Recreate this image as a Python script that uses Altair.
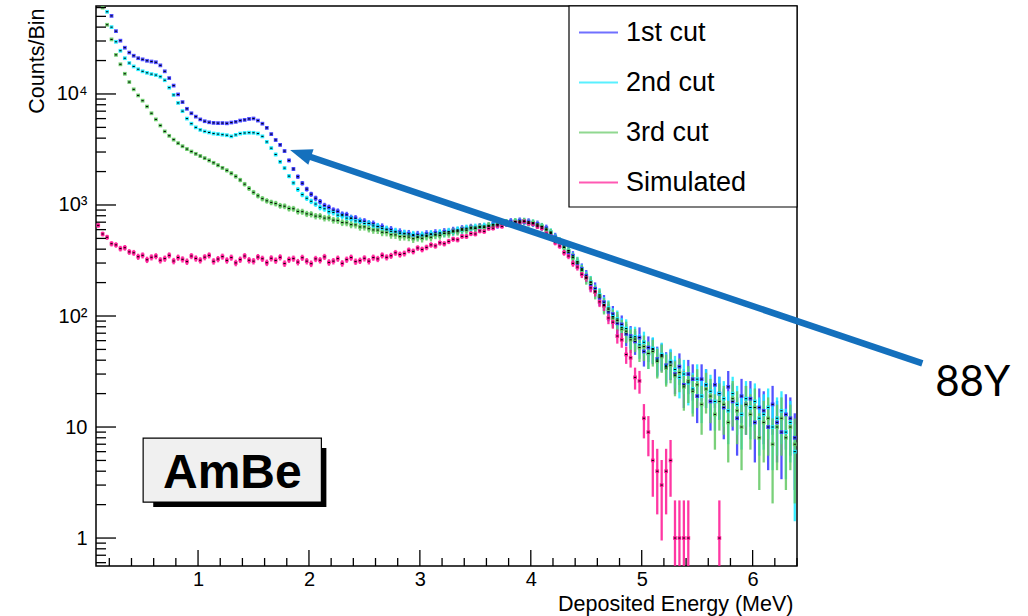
import altair as alt
import pandas as pd

# ---------------- data ----------------
BIN_START = 0.10   # MeV, centre of first bin
BIN_STEP = 0.04    # MeV

series_names = ["1st cut", "2nd cut", "3rd cut", "Simulated"]
series_colors = ["#3535ff", "#14eaff", "#62c862", "#ff1493"]
# weight per entry (error bar = sqrt(weight * value))
series_weights = [3.5, 3.5, 3.5, 1.4]

cut1 = [
    160000, 105000, 72000, 50500, 36800, 30200, 26100, 23600, 22100, 21000,
    20500, 19900, 19600, 19300, 18100, 16000, 13900, 11900, 9900, 8450,
    7350, 6700, 6250, 5900, 5680, 5560, 5490, 5460, 5470, 5440,
    5530, 5610, 5760, 5840, 5960, 6010, 5760, 5400, 4950, 4350,
    3850, 3480, 3060, 2520, 2110, 1800, 1570, 1390, 1250, 1150,
    1072, 988, 951, 897, 876, 822, 815, 766, 760, 720,
    712, 683, 676, 638, 636, 598, 600, 570, 571, 550,
    552, 531, 541, 528, 549, 543, 561, 549, 574, 570,
    591, 588, 612, 608, 630, 619, 641, 635, 648, 672,
    660, 691, 684, 711, 698, 722, 705, 709, 681, 676,
    634, 619, 553, 519, 455, 428, 374, 349, 296, 267,
    231, 192, 176, 146, 133, 109, 104, 86, 84, 69,
    66, 59, 64, 48, 52, 50, 41, 44, 36, 38,
    30, 35, 24, 30, 27, 19, 27, 24, 17, 24,
    20, 15, 23, 17, 12, 19, 16, 18, 11, 15,
    14, 10, 16, 11, 9, 13, 12, 8,
]

cut2 = [
    120000, 80000, 55000, 40000, 29500, 24500, 21000, 19000, 17700, 16700,
    16000, 15500, 15100, 14800, 14300, 13300, 11400, 9800, 8300, 7000,
    6000, 5400, 5000, 4750, 4600, 4500, 4400, 4350, 4300, 4250,
    4150, 4280, 4400, 4450, 4480, 4470, 4400, 4150, 3700, 3250,
    2850, 2450, 2150, 1820, 1580, 1380, 1240, 1150, 1080, 1020,
    952, 924, 870, 857, 810, 801, 762, 755, 719, 713,
    681, 682, 648, 642, 613, 607, 579, 579, 555, 556,
    537, 541, 522, 536, 531, 550, 543, 562, 555, 578,
    572, 598, 593, 619, 611, 633, 626, 647, 641, 664,
    671, 672, 695, 690, 710, 703, 716, 690, 692, 660,
    643, 600, 571, 509, 472, 418, 389, 339, 309, 261,
    224, 203, 168, 155, 127, 118, 99, 94, 79, 77,
    64, 65, 55, 58, 46, 51, 40, 45, 35, 39,
    33, 28, 30, 25, 22, 27, 19, 24, 21, 17,
    20, 18, 14, 20, 16, 13, 18, 15, 17, 12,
    13, 15, 10, 12, 14, 9, 11, 6,
]

cut3 = [
    90000, 60000, 42000, 31000, 22500, 18500, 15200, 12800, 11000, 9700,
    8700, 7700, 6700, 5900, 5200, 4600, 4200, 3880, 3600, 3380,
    3190, 3030, 2890, 2760, 2640, 2520, 2400, 2280, 2160, 2050,
    1930, 1810, 1680, 1540, 1410, 1300, 1210, 1140, 1090, 1055,
    1030, 985, 975, 930, 925, 875, 870, 832, 826, 794,
    793, 762, 764, 730, 726, 695, 692, 665, 662, 634,
    635, 612, 596, 594, 568, 566, 540, 538, 519, 521,
    514, 497, 510, 501, 521, 512, 535, 530, 555, 551,
    578, 575, 600, 592, 622, 615, 636, 628, 655, 648,
    672, 668, 698, 688, 712, 705, 716, 690, 691, 658,
    640, 596, 566, 503, 468, 414, 385, 335, 305, 258,
    219, 200, 165, 151, 124, 115, 96, 91, 76, 73,
    61, 62, 52, 53, 46, 48, 39, 43, 34, 36,
    29, 31, 23, 26, 21, 24, 16, 22, 19, 13,
    17, 16, 11, 18, 14, 10, 16, 13, 15, 8,
    11, 12, 7, 10, 12, 8, 10, 7,
]

simulated = [
    655, 548, 512, 448, 437, 405, 412, 378, 371, 342,
    352, 321, 338, 346, 318, 329, 352, 313, 336, 324,
    309, 347, 330, 318, 339, 352, 311, 326, 343, 317,
    336, 301, 322, 347, 318, 312, 340, 328, 302, 331,
    316, 338, 297, 322, 329, 306, 335, 312, 296, 327,
    318, 341, 304, 312, 329, 298, 322, 336, 309, 315,
    331, 312, 336, 327, 352, 338, 349, 371, 358, 366,
    391, 382, 410, 398, 415, 437, 428, 456, 448, 470,
    492, 486, 522, 521, 552, 548, 584, 578, 615, 618,
    648, 642, 672, 668, 697, 690, 712, 682, 676, 638,
    618, 556, 522, 458, 427, 372, 347, 298, 276, 238,
    221, 179, 165, 134, 124, 96, 88, 66, 61, 45,
    42, 28, 26, 12, 9, 5, 4, 3, 4, 5,
    1, 1, 1, 1, 0, 0, 0, 0, 0, 0,
    1, 0, 0, 0, 0, 0, 0, 0, 0, 0,
    0, 0, 0, 0, 0, 0, 0, 0,
]

x_major = [1, 2, 3, 4, 5, 6]
x_minor = [round(0.2 * k, 1) for k in range(1, 33) if k % 5 != 0]
y_major = [1, 10, 100, 1000, 10000]
y_minor = [0.6, 0.7, 0.8, 0.9] + [m * 10 ** d for d in range(0, 5) for m in range(2, 10) if m * 10 ** d <= 62000]

# annotations (in data units)
arrow_E = [1.983, 7.53]
arrow_counts = [2775, 37.5]
arrow_tip_E = [1.83]
arrow_tip_counts = [3130]
label_88Y = {"E": [7.646], "counts": [19.0], "text": ["88Y"]}
ambe_box = {"E1": [0.505], "E2": [2.112], "c1": [7.96], "c2": [2.11]}
ambe_shadow = {"E1": [0.596], "E2": [2.157], "c1": [6.47], "c2": [1.90]}
ambe_text = {"E": [1.309], "counts": [2.82], "text": ["AmBe"]}

# ---------------- build table ----------------
rows = []
for name, w, vals in zip(series_names, series_weights, [cut1, cut2, cut3, simulated]):
    for i, v in enumerate(vals):
        if v <= 0:
            continue
        e = round(BIN_START + BIN_STEP * i, 3)
        err = (w * v) ** 0.5
        rows.append({
            "series": name, "E": e, "v": v,
            "lo": max(v - err, 0.3), "hi": v + err,
            "e0": e - 0.01, "e1": e + 0.01,
        })
df = pd.DataFrame(rows)

FONT = "Liberation Sans"
W, H = 701, 560

xs = alt.Scale(domain=[0.08, 6.4], nice=False, zero=False)
ys = alt.Scale(type="log", domain=[0.56, 62000], nice=False)
color_scale = alt.Scale(domain=series_names, range=series_colors)

x_axis = alt.Axis(
    values=x_major, format="d", ticks=False, domain=False, grid=False,
    labelFont=FONT, labelFontSize=20, labelColor="black", labelPadding=3,
    title="Deposited Energy (MeV)", titleFont=FONT, titleFontSize=21.5,
    titleFontWeight="normal", titleColor="black", titleAnchor="end",
    titleAlign="right", titleBaseline="alphabetic", titleX=697, titleY=44,
)
y_axis = alt.Axis(
    values=y_major, ticks=False, domain=False, grid=False,
    labelExpr="datum.value == 100 ? '10²' : datum.value == 1000 ? '10³' : datum.value == 10000 ? '10⁴' : datum.label",
    labelFont=FONT, labelFontSize=20, labelColor="black", labelPadding=9,
    title="Counts/Bin", titleFont=FONT, titleFontSize=21.5, titleFontWeight="normal",
    titleColor="black", titleAngle=270, titleAnchor="end", titleAlign="right",
    titleBaseline="alphabetic", titleX=-53, titleY=2,
)

base = alt.Chart(df)

bars = base.mark_rule(strokeWidth=2.3, opacity=0.85, clip=True).encode(
    x=alt.X("E:Q", scale=xs, axis=x_axis),
    y=alt.Y("lo:Q", scale=ys, axis=y_axis),
    y2="hi:Q",
    color=alt.Color("series:N", scale=color_scale, legend=alt.Legend(
        orient="none", legendX=482, legendY=6, title=None,
        symbolType="stroke", symbolSize=1521, symbolStrokeWidth=2,
        symbolOpacity=0.7, labelFont=FONT, labelFontSize=27,
        labelColor="black", labelOffset=7, rowPadding=16, padding=0,
    )),
)
squares = base.mark_square(size=14, opacity=0.9, clip=True).encode(
    x="E:Q", y="v:Q", color=alt.Color("series:N", scale=color_scale, legend=None)
)
dots = base.mark_rule(color="black", strokeWidth=1.0, clip=True).encode(
    x="e0:Q", x2="e1:Q", y="v:Q"
)

tick_style = dict(color="black", strokeWidth=1.3)
xmaj = alt.Chart(pd.DataFrame({"t": x_major})).mark_rule(**tick_style).encode(
    x="t:Q", y=alt.value(H), y2=alt.value(H - 16))
xmin = alt.Chart(pd.DataFrame({"t": x_minor})).mark_rule(**tick_style).encode(
    x="t:Q", y=alt.value(H), y2=alt.value(H - 8))
ymaj = alt.Chart(pd.DataFrame({"t": y_major})).mark_rule(**tick_style).encode(
    y="t:Q", x=alt.value(0), x2=alt.value(20))
ymin = alt.Chart(pd.DataFrame({"t": y_minor})).mark_rule(**tick_style).encode(
    y="t:Q", x=alt.value(0), x2=alt.value(10))

legend_box = alt.Chart(pd.DataFrame({"k": [0]})).mark_rect(
    fill="white", stroke="black", strokeWidth=1.2).encode(
    x=alt.value(473), x2=alt.value(W), y=alt.value(0), y2=alt.value(201))

shadow = alt.Chart(pd.DataFrame(ambe_shadow)).mark_rect(fill="black").encode(
    x="E1:Q", x2="E2:Q", y="c1:Q", y2="c2:Q")
box = alt.Chart(pd.DataFrame(ambe_box)).mark_rect(
    fill="#f0f0f0", stroke="black", strokeWidth=1.2).encode(
    x="E1:Q", x2="E2:Q", y="c1:Q", y2="c2:Q")
box_text = alt.Chart(pd.DataFrame(ambe_text)).mark_text(
    font=FONT, fontSize=48, fontWeight="bold", color="black",
    align="center", baseline="alphabetic").encode(
    x="E:Q", y="counts:Q", text="text:N")

arrow_line = alt.Chart(pd.DataFrame({"E": arrow_E, "counts": arrow_counts})).mark_line(
    color="#1470bd", strokeWidth=6.5, clip=False).encode(x="E:Q", y="counts:Q")
arrow_head = alt.Chart(pd.DataFrame({"E": arrow_tip_E, "counts": arrow_tip_counts})).mark_point(
    shape="M0,0L2,-0.75L2,0.75Z", size=484, filled=True, opacity=1,
    color="#1470bd", angle=18.68, clip=False).encode(x="E:Q", y="counts:Q")
text88 = alt.Chart(pd.DataFrame(label_88Y)).mark_text(
    font="Lato", fontSize=42, color="black", align="left",
    baseline="alphabetic", clip=False).encode(x="E:Q", y="counts:Q", text="text:N")

chart = alt.layer(
    bars, squares, dots, xmaj, xmin, ymaj, ymin,
    legend_box, shadow, box, box_text, arrow_line, arrow_head, text88,
).properties(
    width=W, height=H,
    autosize=alt.AutoSizeParams(type="none"),
    padding={"left": 96, "top": 6, "right": 231, "bottom": 50},
    background="white",
).configure_view(stroke="black", strokeWidth=1.5)

chart.save("out.html", embed_options={"renderer": "svg", "actions": False})
